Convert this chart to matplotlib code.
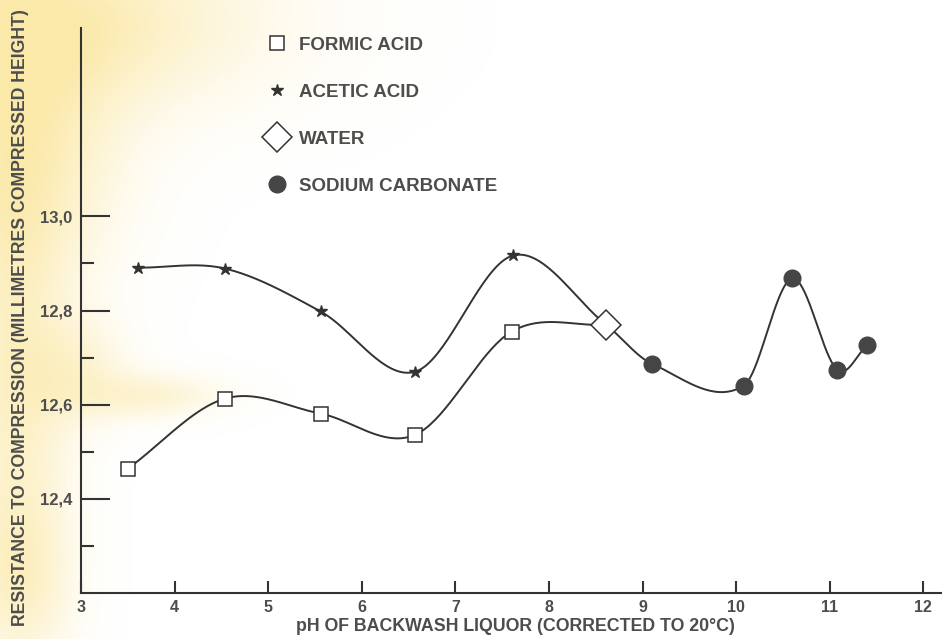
import numpy as np
import matplotlib
matplotlib.use("Agg")
import matplotlib.pyplot as plt
from matplotlib.lines import Line2D

plt.rcParams['font.family'] = ['Liberation Sans', 'DejaVu Sans']
plt.rcParams['font.weight'] = 'bold'

# measured points (pH, resistance in mm)
formic_ph = [3.50, 4.54, 5.56, 6.57, 7.60]
formic_val = [12.464, 12.613, 12.581, 12.536, 12.755]

acetic_ph = [3.61, 4.54, 5.56, 6.57, 7.62]
acetic_val = [12.891, 12.889, 12.798, 12.670, 12.917]

water_ph = [8.61]
water_val = [12.770]

soda_ph = [9.10, 10.08, 10.60, 11.08, 11.40]
soda_val = [12.687, 12.640, 12.868, 12.674, 12.726]

x_ticks = [3, 4, 5, 6, 7, 8, 9, 10, 11, 12]
y_major = [12.4, 12.6, 12.8, 13.0]
y_minor = [12.3, 12.5, 12.7, 12.9]

ink = '#333333'
text_col = '#4d4d4d'


def smooth(xs, ys, n=40):
    # cubic Hermite through the points, Catmull-Rom style tangents
    xs = np.asarray(xs, float)
    ys = np.asarray(ys, float)
    m = np.empty_like(ys)
    m[1:-1] = (ys[2:] - ys[:-2]) / (xs[2:] - xs[:-2])
    m[0] = (ys[1] - ys[0]) / (xs[1] - xs[0])
    m[-1] = (ys[-1] - ys[-2]) / (xs[-1] - xs[-2])
    px, py = [], []
    for i in range(len(xs) - 1):
        h = xs[i + 1] - xs[i]
        t = np.linspace(0, 1, n)
        h00 = 2 * t**3 - 3 * t**2 + 1
        h10 = t**3 - 2 * t**2 + t
        h01 = -2 * t**3 + 3 * t**2
        h11 = t**3 - t**2
        px.append(xs[i] + t * h)
        py.append(h00 * ys[i] + h10 * h * m[i] + h01 * ys[i + 1] + h11 * h * m[i + 1])
    return np.concatenate(px), np.concatenate(py)


fig = plt.figure(figsize=(9.42, 6.39), dpi=100)

# yellowed paper stains along the left edge
H, W = 639, 942
yy, xx = np.mgrid[0:H, 0:W]
alpha = np.zeros((H, W))
for cx, cy, rx, ry, a in [(30, 20, 210, 90, 0.55), (20, 160, 95, 120, 0.45),
                          (15, 390, 55, 200, 0.4), (150, 395, 70, 22, 0.3),
                          (80, 370, 50, 50, 0.25), (20, 580, 50, 80, 0.3)]:
    alpha += a * np.exp(-(((xx - cx) / rx) ** 2 + ((yy - cy) / ry) ** 2))
alpha = np.clip(alpha, 0, 0.6)
stain = np.zeros((H, W, 4))
stain[..., 0] = 0.98
stain[..., 1] = 0.86
stain[..., 2] = 0.45
stain[..., 3] = alpha
bg = fig.add_axes([0, 0, 1, 1], zorder=-1)
bg.imshow(stain, aspect='auto', extent=(0, 1, 0, 1))
bg.axis('off')

ax = fig.add_axes([81 / 942, 46 / 639, 861 / 942, 565 / 639])
ax.set_facecolor('none')
ax.set_xlim(3, 12.2)
ax.set_ylim(12.2, 13.4)

# upper curve: acetic acid -> water -> sodium carbonate
cx, cy = smooth(acetic_ph + water_ph + soda_ph, acetic_val + water_val + soda_val)
ax.plot(cx, cy, color=ink, lw=1.4, zorder=2)
# lower curve: formic acid -> water
cx, cy = smooth(formic_ph + water_ph, formic_val + water_val)
ax.plot(cx, cy, color=ink, lw=1.4, zorder=2)

ax.plot(formic_ph, formic_val, 's', ms=10.5, mfc='white', mec=ink, mew=1.1, ls='none', zorder=3)
ax.plot(acetic_ph, acetic_val, '*', ms=9, color=ink, ls='none', zorder=3)
ax.plot(water_ph, water_val, 'D', ms=15, mfc='white', mec=ink, mew=1.1, ls='none', zorder=3)
ax.plot(soda_ph, soda_val, 'o', ms=12, color='#454545', ls='none', zorder=3)

handles = [
    Line2D([], [], marker='s', ms=10.5, mfc='white', mec=ink, mew=1.1, ls='none'),
    Line2D([], [], marker='*', ms=9, color=ink, ls='none'),
    Line2D([], [], marker='D', ms=15, mfc='white', mec=ink, mew=1.1, ls='none'),
    Line2D([], [], marker='o', ms=12, color='#454545', ls='none'),
]
labels = ['FORMIC ACID', 'ACETIC ACID', 'WATER', 'SODIUM CARBONATE']
ax.legend(handles, labels, loc='upper left', bbox_to_anchor=(0.215, 0.985),
          frameon=False, fontsize=13.5, labelspacing=1.6, handlelength=1.2,
          handletextpad=0.55, borderpad=0, borderaxespad=0, labelcolor=text_col)

for s in ['top', 'right']:
    ax.spines[s].set_visible(False)
for s in ['left', 'bottom']:
    ax.spines[s].set_color(ink)
    ax.spines[s].set_linewidth(1.5)

ax.set_xticks(x_ticks)
ax.set_xticklabels([str(v) for v in x_ticks])
ax.set_yticks(y_major)
ax.set_yticklabels([f'{v:.1f}'.replace('.', ',') for v in y_major])
ax.set_yticks(y_minor, minor=True)

ax.tick_params(axis='x', direction='in', length=9, width=1.5, color=ink,
               labelsize=11.5, labelcolor=text_col, pad=5)
ax.tick_params(axis='y', which='major', direction='in', length=21, width=1.5,
               color=ink, labelsize=12, labelcolor=text_col, pad=6)
ax.tick_params(axis='y', which='minor', direction='in', length=9.5, width=1.5, color=ink)

ax.set_xlabel('pH OF BACKWASH LIQUOR (CORRECTED TO 20°C)', fontsize=12.8,
              color=text_col, fontweight='bold')
ax.xaxis.set_label_coords(0.505, -0.045)
ax.set_ylabel('RESISTANCE TO COMPRESSION (MILLIMETRES COMPRESSED HEIGHT)',
              fontsize=12.7, color=text_col, fontweight='bold')
ax.yaxis.set_label_coords(-0.06, 0.487)

fig.savefig('out.png', dpi=100)
